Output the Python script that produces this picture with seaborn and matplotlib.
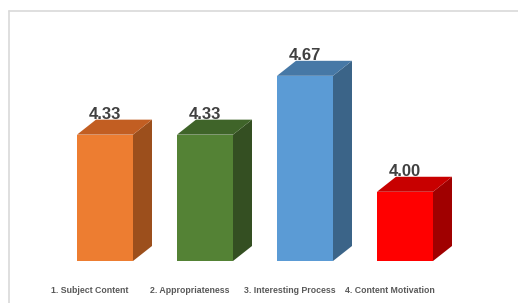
import pandas as pd
import seaborn as sns
import matplotlib.pyplot as plt
from matplotlib.patches import Polygon
from matplotlib.lines import Line2D
from matplotlib.colors import to_rgb

categories = ["1. Subject Content", "2. Appropriateness", "3. Interesting Process", "4. Content Motivation"]
scores = [4.33, 4.33, 4.67, 4.00]
front_colors = ["#ED7D31", "#548235", "#5B9BD5", "#FF0000"]
side_colors = ["#9C4F1C", "#344F22", "#3B6488", "#A00000"]
top_colors = ["#C25E22", "#3F6429", "#4678A6", "#C80000"]

df = pd.DataFrame({"category": categories, "score": scores})

sns.set_style("white")
plt.rcParams["font.family"] = ["Liberation Sans", "DejaVu Sans"]

fig = plt.figure(figsize=(5.18, 3.03), dpi=100)
W, H = 518, 303
ax = fig.add_axes([55 / W, (H - 261) / H, 400 / W, 225 / H])

sns.barplot(data=df, x="category", y="score", hue="category",
            palette=front_colors, width=0.56, legend=False, ax=ax,
            saturation=1, edgecolor="none")
ax.set_xlim(-0.5, 3.5)
ax.set_ylim(3.6, 4.9)
ax.axis("off")

# fake 3D depth
dx = 0.19
dy = 15 / 173
for i, p in enumerate(ax.patches):
    x0 = p.get_x()
    x1 = x0 + p.get_width()
    top = p.get_y() + p.get_height()
    base = 3.6
    side = Polygon([(x1, base), (x1 + dx, base + dy), (x1 + dx, top + dy), (x1, top)],
                   closed=True, facecolor=side_colors[i], edgecolor="none", clip_on=False)
    lid = Polygon([(x0, top), (x0 + dx, top + dy), (x1 + dx, top + dy), (x1, top)],
                  closed=True, facecolor=top_colors[i], edgecolor="none", clip_on=False)
    ax.add_patch(side)
    ax.add_patch(lid)
    # clip side below baseline to avoid sticking out below floor
    side.set_clip_on(False)
    ax.text(x0 + p.get_width() / 2, top + dy + 0.005, f"{scores[i]:.2f}",
            ha="center", va="baseline", fontsize=12, fontweight="bold", color="#404040")
    ax.text(x0 + p.get_width() / 2 - 0.15, 3.6 - 29 / 173, categories[i],
            ha="center", va="center", fontsize=6.3, fontweight="bold", color="#595959")

# chart frame (left and top only)
fig.add_artist(Line2D([8.5 / W, 8.5 / W], [0, (H - 10.5) / H], color="#D9D9D9", lw=1.2))
fig.add_artist(Line2D([8.5 / W, 1], [(H - 10.5) / H, (H - 10.5) / H], color="#D9D9D9", lw=1.2))

fig.savefig("out.png", dpi=100, facecolor="white")
